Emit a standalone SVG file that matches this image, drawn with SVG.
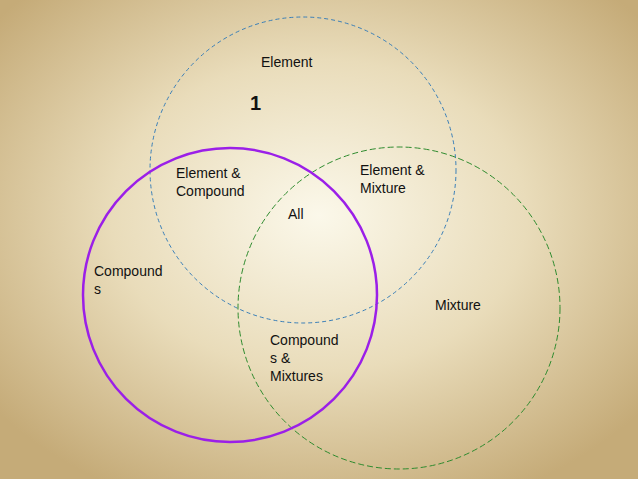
<svg xmlns="http://www.w3.org/2000/svg" width="638" height="479" viewBox="0 0 638 479">
<defs>
<radialGradient id="bg" cx="50%" cy="45%" r="65%">
<stop offset="0" stop-color="#fbf8ea"/>
<stop offset="0.5" stop-color="#e9dcba"/>
<stop offset="1" stop-color="#c5ab78"/>
</radialGradient>
<style>
text{font-family:"Liberation Sans",Arial,sans-serif;font-size:14px;fill:#111}
.c{fill:none}
</style>
</defs>
<rect width="638" height="479" fill="url(#bg)"/>
<g id="connectors"></g>
<g id="element"><circle class="c" cx="303" cy="170" r="153" stroke="#3a7fb8" stroke-width="1" stroke-dasharray="4,3"/></g>
<g id="mixture"><circle class="c" cx="399" cy="308" r="161" stroke="#2e8b2e" stroke-width="1" stroke-dasharray="6,3"/></g>
<g id="compound"><circle class="c" cx="230" cy="295" r="147" stroke="#9b1fe8" stroke-width="2.5"/></g>
<g id="labels">
<text x="261" y="67">Element</text>
<text x="250" y="110" style="font-size:20px;font-weight:bold">1</text>
<text x="176" y="178">Element &amp;</text>
<text x="176" y="196">Compound</text>
<text x="360" y="175">Element &amp;</text>
<text x="360" y="193">Mixture</text>
<text x="288" y="219">All</text>
<text x="94" y="276">Compound</text>
<text x="94" y="294">s</text>
<text x="435" y="310">Mixture</text>
<text x="270" y="345">Compound</text>
<text x="270" y="363">s &amp;</text>
<text x="270" y="381">Mixtures</text>
</g>
</svg>
